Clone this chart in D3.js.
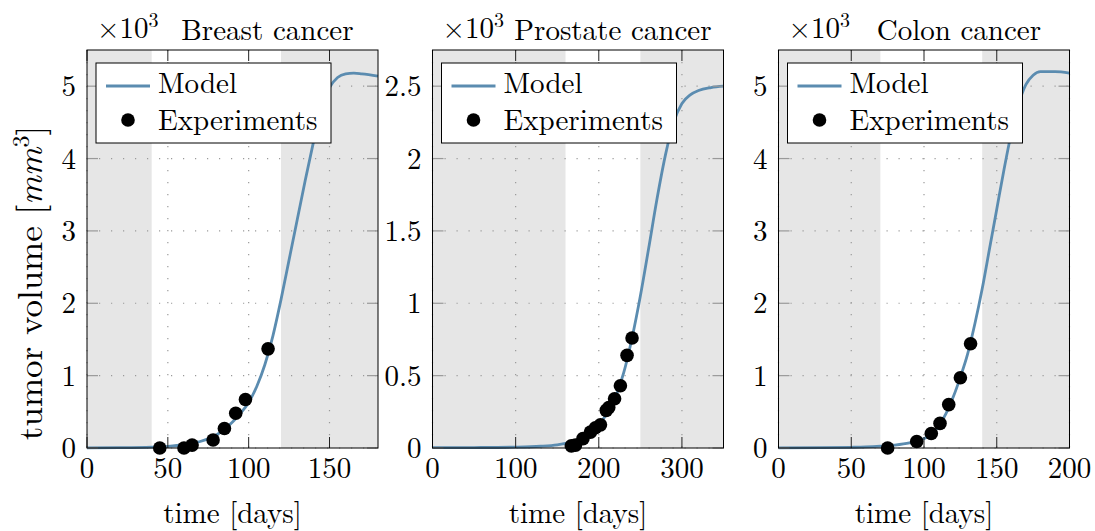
<!DOCTYPE html>
<html>
<head>
<meta charset="utf-8">
<script src="https://cdn.jsdelivr.net/npm/d3@7"></script>
<style>
  body { margin: 0; background: #fff; }
</style>
</head>
<body>
<svg id="chart" width="1095" height="531"></svg>
<script>
// panel setup
var panelNames = ["Breast cancer", "Prostate cancer", "Colon cancer"];
var xMaxes = [180, 350, 200];
var yMaxes = [5.5, 2.75, 5.5];
var xTickSets = [[0, 50, 100, 150], [0, 100, 200, 300], [0, 50, 100, 150, 200]];
var yTickSets = [[0, 1, 2, 3, 4, 5], [0, 0.5, 1, 1.5, 2, 2.5], [0, 1, 2, 3, 4, 5]];
// white observation window per panel (days)
var windows = [[40, 120], [160, 250], [70, 140]];

// model curves (x10^3 mm^3)
var breastModelDays = [0, 20, 40, 50, 60, 70, 80, 90, 95, 100, 105, 110, 115, 120, 125, 130, 135, 140, 145, 150, 155, 160, 165, 170, 180];
var breastModelVol  = [0.003, 0.005, 0.012, 0.022, 0.045, 0.09, 0.18, 0.36, 0.48, 0.63, 0.85, 1.15, 1.55, 2.05, 2.6, 3.15, 3.7, 4.22, 4.7, 4.98, 5.12, 5.17, 5.18, 5.17, 5.14];
var prostateModelDays = [0, 50, 100, 130, 150, 160, 170, 180, 190, 200, 210, 220, 230, 240, 250, 260, 270, 280, 290, 300, 310, 320, 335, 350];
var prostateModelVol  = [0.002, 0.003, 0.006, 0.012, 0.022, 0.032, 0.045, 0.065, 0.1, 0.16, 0.24, 0.35, 0.52, 0.76, 1.05, 1.38, 1.72, 2.02, 2.25, 2.38, 2.44, 2.47, 2.49, 2.5];
var colonModelDays = [0, 30, 50, 60, 70, 80, 90, 100, 105, 110, 115, 120, 125, 130, 135, 140, 145, 150, 155, 160, 165, 170, 175, 180, 190, 200];
var colonModelVol  = [0.003, 0.005, 0.01, 0.015, 0.025, 0.04, 0.07, 0.13, 0.19, 0.3, 0.47, 0.7, 0.98, 1.3, 1.72, 2.2, 2.75, 3.3, 3.85, 4.35, 4.75, 5.02, 5.15, 5.2, 5.2, 5.18];

// experiments
var breastExpDays = [45, 60, 65, 78, 85, 92, 98, 112];
var breastExpVol  = [0.0, 0.0, 0.04, 0.11, 0.27, 0.48, 0.67, 1.37];
var prostateExpDays = [167, 172, 181, 190, 196, 202, 209, 212, 219, 226, 234, 240];
var prostateExpVol  = [0.015, 0.02, 0.065, 0.11, 0.14, 0.16, 0.26, 0.28, 0.34, 0.43, 0.64, 0.76];
var colonExpDays = [75, 95, 105, 111, 117, 125, 132];
var colonExpVol  = [0.0, 0.09, 0.2, 0.34, 0.6, 0.97, 1.44];

var modelDays = [breastModelDays, prostateModelDays, colonModelDays];
var modelVols = [breastModelVol, prostateModelVol, colonModelVol];
var expDays = [breastExpDays, prostateExpDays, colonExpDays];
var expVols = [breastExpVol, prostateExpVol, colonExpVol];

var lefts = [87, 432.5, 778.5];
var plotW = 291;
var plotTop = 50, plotBottom = 448;
var tickLen = 11;
var modelColor = "#5b8cb0";
var shadeColor = "#e6e6e6";
var fmt = function(d) { return String(d); };

var svg = d3.select("#chart")
    .attr("font-family", "'Latin Modern Roman', 'Liberation Serif', serif")
    .attr("font-size", 29);

panelNames.forEach(function(name, i) {
    var h = plotBottom - plotTop;
    var x = d3.scaleLinear().domain([0, xMaxes[i]]).range([0, plotW]);
    var y = d3.scaleLinear().domain([0, yMaxes[i]]).range([h, 0]);

    var g = svg.append("g").attr("transform", "translate(" + lefts[i] + "," + plotTop + ")");

    // shading
    g.append("rect").attr("width", plotW).attr("height", h).attr("fill", shadeColor);
    g.append("rect")
        .attr("x", x(windows[i][0]))
        .attr("width", x(windows[i][1]) - x(windows[i][0]))
        .attr("height", h)
        .attr("fill", "#fff");

    // dotted grid
    g.selectAll(".gx").data(xTickSets[i]).enter().append("line")
        .attr("x1", function(d) { return x(d); }).attr("x2", function(d) { return x(d); })
        .attr("y1", 0).attr("y2", h)
        .attr("stroke", "#9a9a9a").attr("stroke-width", 1.2)
        .attr("stroke-dasharray", "1.2,10.8");
    g.selectAll(".gy").data(yTickSets[i]).enter().append("line")
        .attr("y1", function(d) { return y(d); }).attr("y2", function(d) { return y(d); })
        .attr("x1", 0).attr("x2", plotW)
        .attr("stroke", "#9a9a9a").attr("stroke-width", 1.2)
        .attr("stroke-dasharray", "1.2,10.8");

    // model curve
    var pts = modelDays[i].map(function(d, k) { return [d, modelVols[i][k]]; });
    var line = d3.line()
        .x(function(d) { return x(d[0]); })
        .y(function(d) { return y(d[1]); })
        .curve(d3.curveMonotoneX);
    g.append("path").datum(pts)
        .attr("d", line)
        .attr("fill", "none")
        .attr("stroke", modelColor)
        .attr("stroke-width", 2.8);

    // experiment dots
    var exp = expDays[i].map(function(d, k) { return [d, expVols[i][k]]; });
    g.selectAll(".dot").data(exp).enter().append("circle")
        .attr("cx", function(d) { return x(d[0]); })
        .attr("cy", function(d) { return y(d[1]); })
        .attr("r", 6.8)
        .attr("fill", "#000");

    // ticks (mirrored)
    xTickSets[i].forEach(function(t) {
        g.append("line").attr("x1", x(t)).attr("x2", x(t)).attr("y1", h).attr("y2", h - tickLen)
            .attr("stroke", "#222").attr("stroke-width", 1);
        g.append("line").attr("x1", x(t)).attr("x2", x(t)).attr("y1", 0).attr("y2", tickLen)
            .attr("stroke", "#222").attr("stroke-width", 1);
    });
    yTickSets[i].forEach(function(t) {
        g.append("line").attr("x1", 0).attr("x2", tickLen).attr("y1", y(t)).attr("y2", y(t))
            .attr("stroke", "#999").attr("stroke-width", 1.2);
        g.append("line").attr("x1", plotW).attr("x2", plotW - tickLen).attr("y1", y(t)).attr("y2", y(t))
            .attr("stroke", "#999").attr("stroke-width", 1.2);
    });

    // frame
    g.append("rect").attr("width", plotW).attr("height", h)
        .attr("fill", "none").attr("stroke", "#000").attr("stroke-width", 1);

    // tick labels
    g.selectAll(".xl").data(xTickSets[i]).enter().append("text")
        .attr("x", function(d) { return x(d); })
        .attr("y", h + 30)
        .attr("text-anchor", "middle")
        .text(fmt);
    g.selectAll(".yl").data(yTickSets[i]).enter().append("text")
        .attr("x", -11)
        .attr("y", function(d) { return y(d); })
        .attr("dy", "0.35em")
        .attr("text-anchor", "end")
        .text(fmt);

    // x label
    g.append("text")
        .attr("x", plotW / 2)
        .attr("y", 523 - plotTop)
        .attr("text-anchor", "middle")
        .text("time [days]");

    // scale marker and title
    var sc = g.append("text").attr("x", 10).attr("y", -12);
    sc.append("tspan").text("\u00d710");
    sc.append("tspan").attr("dy", -11).attr("font-size", 20).text("3");
    g.append("text")
        .attr("x", plotW * 0.62)
        .attr("y", -10)
        .attr("text-anchor", "middle")
        .text(name);

    // legend
    var lg = g.append("g").attr("transform", "translate(9,13)");
    lg.append("rect").attr("width", 235).attr("height", 80)
        .attr("fill", "#fff").attr("stroke", "#000").attr("stroke-width", 1);
    lg.append("line").attr("x1", 10).attr("x2", 54).attr("y1", 23).attr("y2", 23)
        .attr("stroke", modelColor).attr("stroke-width", 2.8);
    lg.append("text").attr("x", 62).attr("y", 30).text("Model");
    lg.append("circle").attr("cx", 32).attr("cy", 57).attr("r", 6.8).attr("fill", "#000");
    lg.append("text").attr("x", 62).attr("y", 66.5).text("Experiments");
});

// y axis label
var yl = svg.append("text")
    .attr("transform", "translate(42,283) rotate(-90)")
    .attr("text-anchor", "middle")
    .attr("font-size", 35);
yl.append("tspan").text("tumor volume [");
yl.append("tspan").attr("font-style", "italic").text("mm");
yl.append("tspan").attr("dy", -13).attr("font-size", 24).text("3");
yl.append("tspan").attr("dy", 13).text("]");
</script>
</body>
</html>
